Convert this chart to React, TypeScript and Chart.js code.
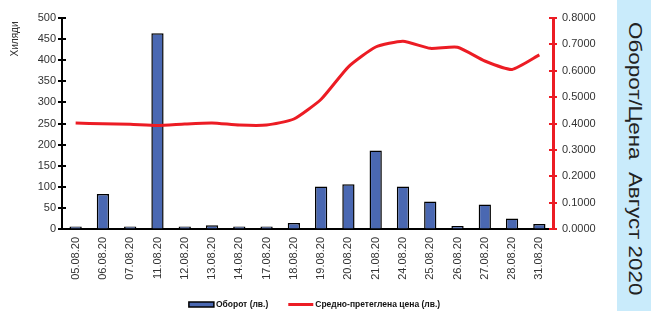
import React, { useEffect, useRef } from "react";
import { Chart, registerables } from "chart.js";

Chart.register(...registerables);

const categories = [
  "05.08.20", "06.08.20", "07.08.20", "11.08.20", "12.08.20", "13.08.20",
  "14.08.20", "17.08.20", "18.08.20", "19.08.20", "20.08.20", "21.08.20",
  "24.08.20", "25.08.20", "26.08.20", "27.08.20", "28.08.20", "31.08.20",
];
const turnover = [3, 83, 2, 464, 2, 9, 2, 2, 14, 101, 106, 186, 101, 65, 7, 58, 25, 12];
const price = [
  0.402, 0.399, 0.397, 0.392, 0.398, 0.402, 0.394, 0.394, 0.417,
  0.492, 0.615, 0.69, 0.712, 0.685, 0.689, 0.637, 0.605, 0.66,
];
const leftTickLabels = { min: 0, max: 500, step: 50 };
const rightTickLabels = { min: 0, max: 0.8, step: 0.1 };
const seriesNames = ["Оборот (лв.)", "Средно-претеглена цена (лв.)"];
const leftAxisTitle = "Хиляди";
const sideTitle = "Оборот/Цена  Август 2020";

const FONT = "'Liberation Sans', Arial, sans-serif";
const BAR_FILL = "#4a68b2";
const LINE_RED = "#ec1c24";

const crossTicks = {
  id: "crossTicks",
  afterDraw(chart: any) {
    const ctx = chart.ctx;
    const defs = [
      { id: "y", color: "#000", half: 4, lw: 2 },
      { id: "y1", color: LINE_RED, half: 4, lw: 2 },
    ];
    ctx.save();
    for (const d of defs) {
      const sc = chart.scales[d.id];
      if (!sc) continue;
      const x = d.id === "y" ? sc.right : sc.left;
      ctx.strokeStyle = d.color;
      ctx.lineWidth = d.lw;
      for (const t of sc.ticks) {
        const py = Math.round(sc.getPixelForValue(t.value));
        ctx.beginPath();
        ctx.moveTo(x - d.half, py);
        ctx.lineTo(x + d.half, py);
        ctx.stroke();
      }
    }
    ctx.restore();
  },
};

const yTitle = {
  id: "yTitle",
  afterDraw(chart: any) {
    const ctx = chart.ctx;
    ctx.save();
    ctx.translate(15, 39);
    ctx.rotate(-Math.PI / 2);
    ctx.font = `10px ${FONT}`;
    ctx.fillStyle = "#333";
    ctx.textAlign = "center";
    ctx.textBaseline = "middle";
    ctx.fillText(leftAxisTitle, 0, 0);
    ctx.restore();
  },
};

const bottomLegend = {
  id: "bottomLegend",
  afterDraw(chart: any) {
    const ctx = chart.ctx;
    const ds = chart.data.datasets;
    ctx.save();
    ctx.font = `bold 8.5px ${FONT}`;
    const markW = 25;
    const gap = 2;
    const itemGap = 20;
    const widths = ds.map((d: any) => markW + gap + ctx.measureText(d.label).width);
    const total = widths.reduce((a: number, b: number) => a + b, 0) + itemGap * (ds.length - 1);
    let x = 314.5 - total / 2;
    const cy = 304.5;
    ds.forEach((d: any, i: number) => {
      if (d.type === "bar") {
        ctx.fillStyle = d.backgroundColor;
        ctx.fillRect(x, cy - 2.5, markW, 5);
        ctx.strokeStyle = "#000";
        ctx.lineWidth = 1.5;
        ctx.strokeRect(x, cy - 2.5, markW, 5);
      } else {
        ctx.strokeStyle = d.borderColor;
        ctx.lineWidth = 3;
        ctx.beginPath();
        ctx.moveTo(x, cy);
        ctx.lineTo(x + markW, cy);
        ctx.stroke();
      }
      ctx.fillStyle = "#111";
      ctx.textAlign = "left";
      ctx.textBaseline = "middle";
      ctx.fillText(d.label, x + markW + gap, cy);
      x += widths[i] + itemGap;
    });
    ctx.restore();
  },
};

export default function App() {
  const ref = useRef<HTMLCanvasElement | null>(null);

  useEffect(() => {
    if (!ref.current) return;
    const tickFont = { family: FONT, size: 11 };
    const chart = new Chart(ref.current, {
      data: {
        labels: categories,
        datasets: [
          {
            type: "bar",
            label: seriesNames[0],
            data: turnover,
            yAxisID: "y",
            backgroundColor: BAR_FILL,
            borderColor: "#000",
            borderWidth: 1.5,
            barPercentage: 0.45,
            categoryPercentage: 1,
            minBarLength: 2.5,
            order: 1,
          } as any,
          {
            type: "line",
            label: seriesNames[1],
            data: price,
            yAxisID: "y1",
            borderColor: LINE_RED,
            backgroundColor: LINE_RED,
            borderWidth: 3,
            pointRadius: 0,
            tension: 0.18,
            order: 0,
          } as any,
        ],
      },
      options: {
        responsive: false,
        animation: false,
        devicePixelRatio: 1,
        layout: { padding: { top: 18, left: 0, right: 0, bottom: 0 } },
        plugins: {
          legend: { display: false },
          tooltip: { enabled: false },
        },
        scales: {
          x: {
            offset: true,
            grid: { display: true, drawOnChartArea: false, drawTicks: false },
            border: { display: true, color: "#000", width: 2 },
            ticks: {
              font: tickFont,
              color: "#333",
              minRotation: 90,
              maxRotation: 90,
              autoSkip: false,
              padding: 8,
            },
            afterFit: (s: any) => { s.height = 82; },
          },
          y: {
            position: "left",
            min: leftTickLabels.min,
            max: leftTickLabels.max,
            grid: { display: true, drawOnChartArea: false, drawTicks: false },
            border: { display: true, color: "#000", width: 2 },
            ticks: { stepSize: leftTickLabels.step, font: tickFont, color: "#333", padding: 6 },
            afterFit: (s: any) => { s.width = 62; },
          },
          y1: {
            position: "right",
            min: rightTickLabels.min,
            max: rightTickLabels.max,
            grid: { display: true, drawOnChartArea: false, drawTicks: false },
            border: { display: true, color: LINE_RED, width: 3 },
            ticks: {
              stepSize: rightTickLabels.step,
              font: tickFont,
              color: "#333",
              padding: 9,
              callback: (v: any) => Number(v).toFixed(4),
            },
            afterFit: (s: any) => { s.width = 64; },
          },
        },
      },
      plugins: [crossTicks, yTitle, bottomLegend],
    });
    return () => chart.destroy();
  }, []);

  return (
    <div style={{ position: "relative", width: 651, height: 311, overflow: "hidden", background: "#fff" }}>
      <style>{"body{margin:0;}"}</style>
      <canvas ref={ref} width={617} height={311} style={{ position: "absolute", left: 0, top: 0 }} />
      <div
        style={{
          position: "absolute",
          left: 617,
          top: 0,
          width: 34,
          height: 311,
          background: "#c9ebfb",
        }}
      >
        <span
          style={{
            position: "absolute",
            left: 0,
            top: 0,
            whiteSpace: "pre",
            fontFamily: FONT,
            fontSize: 17.5,
            lineHeight: "20px",
            color: "#222",
            transformOrigin: "0 0",
            transform: "translate(28px, 22px) rotate(90deg) scaleX(1.28)",
          }}
        >
          {sideTitle}
        </span>
      </div>
    </div>
  );
}
